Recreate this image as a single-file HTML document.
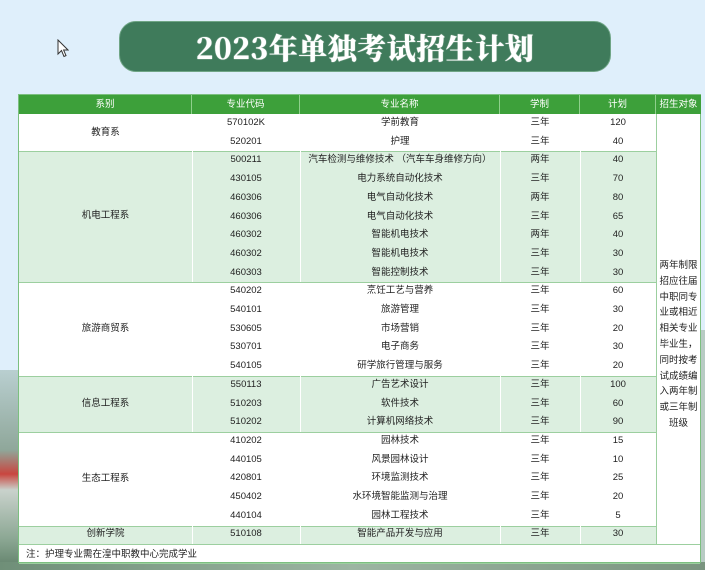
<!DOCTYPE html>
<html><head><meta charset="utf-8"><style>
*{margin:0;padding:0;box-sizing:border-box}
body{width:705px;height:570px;overflow:hidden;position:relative;background:#dfeffb;font-family:"Liberation Sans","Noto Sans CJK SC",sans-serif}
.ph{position:absolute;left:0;top:370px;width:20px;height:200px;background:linear-gradient(#b9cfd0,#8fa79a 40%,#c9463f 52%,#c9d2cc 60%,#8aa692 85%,#5f7f68)}
.bt{position:absolute;left:0;top:562px;width:705px;height:8px;background:linear-gradient(90deg,#6f8f78,#9cb5a2,#7a947f)}
.rt{position:absolute;left:700px;top:330px;width:5px;height:240px;background:#b8cbc4}
.title{position:absolute;left:119px;top:21px;width:492px;height:51px;background:#3f7b5b;border-radius:17px;color:#fff;text-align:center;font-family:"Noto Serif CJK SC",serif;font-weight:900;font-size:29px;line-height:51px;letter-spacing:0.5px;border:1px solid #6fa585;text-shadow:0 0 1px #fff}
.c{position:absolute;font-size:9.5px;color:#222;text-align:center;white-space:nowrap}
.h{position:absolute;top:0;height:19px;background:#3da03a;color:#fff;font-size:9.5px;line-height:19px;text-align:center;border-right:1px solid #8fd08c}
.g{position:absolute;background:#dcefe0;border-top:1px solid #9ccf9f}
.w{position:absolute;border-top:1px solid #9ccf9f}
.vl{position:absolute;width:1px;background:#fff}
</style></head><body>
<div class="ph"></div><div class="rt"></div><div class="bt"></div>
<svg style="position:absolute;left:57px;top:39px" width="12" height="20" viewBox="0 0 12 20"><path d="M1 1 L1 15 L4.5 11.5 L7 17.5 L9 16.6 L6.6 11 L11 11 Z" fill="#fff" stroke="#333" stroke-width="1"/></svg>
<div class="title">2023年单独考试招生计划</div>
<div class="tb" style="position:absolute;left:18px;top:94px;width:683px;height:469px;background:#fff;border:1px solid #7cbf80">
<div class="h" style="left:0;width:173px">系别</div>
<div class="h" style="left:173px;width:108px">专业代码</div>
<div class="h" style="left:281px;width:200px">专业名称</div>
<div class="h" style="left:481px;width:80px">学制</div>
<div class="h" style="left:561px;width:76px">计划</div>
<div class="h" style="left:637px;width:45px;border-right:none">招生对象</div>
<div class="w" style="left:0;top:19px;width:637px;height:37px;border-top:none"></div>
<div class="g" style="left:0;top:56px;width:637px;height:131px"></div>
<div class="w" style="left:0;top:187px;width:637px;height:94px"></div>
<div class="g" style="left:0;top:281px;width:637px;height:56px"></div>
<div class="w" style="left:0;top:337px;width:637px;height:94px"></div>
<div class="g" style="left:0;top:431px;width:637px;height:18px"></div>
<div class="vl" style="left:173px;top:56px;height:131px"></div><div class="vl" style="left:281px;top:56px;height:131px"></div><div class="vl" style="left:481px;top:56px;height:131px"></div><div class="vl" style="left:561px;top:56px;height:131px"></div>
<div class="vl" style="left:173px;top:281px;height:56px"></div><div class="vl" style="left:281px;top:281px;height:56px"></div><div class="vl" style="left:481px;top:281px;height:56px"></div><div class="vl" style="left:561px;top:281px;height:56px"></div>
<div class="vl" style="left:173px;top:431px;height:18px"></div><div class="vl" style="left:281px;top:431px;height:18px"></div><div class="vl" style="left:481px;top:431px;height:18px"></div><div class="vl" style="left:561px;top:431px;height:18px"></div>
<div style="position:absolute;left:0;top:449px;width:681px;height:20px;border-top:1px solid #9ccf9f;border-bottom:1px solid #9ccf9f;font-size:9.5px;line-height:19px;padding-left:7px;color:#222">注：护理专业需在湟中职教中心完成学业</div>
<div style="position:absolute;left:637px;top:19px;width:1px;height:430px;background:#9ccf9f"></div>
<div class="c" style="left:637px;top:163px;width:45px;white-space:normal;line-height:15.8px;font-size:9.5px;padding:0 2px">两年制限招应往届中职同专业或相近相关专业毕业生，同时按考试成绩编入两年制或三年制班级</div>
<div id="rows"></div>
</div>
<script>
var d=[["570102K","学前教育","三年","120"],["520201","护理","三年","40"],["500211","汽车检测与维修技术 （汽车车身维修方向）","两年","40"],["430105","电力系统自动化技术","三年","70"],["460306","电气自动化技术","两年","80"],["460306","电气自动化技术","三年","65"],["460302","智能机电技术","两年","40"],["460302","智能机电技术","三年","30"],["460303","智能控制技术","三年","30"],["540202","烹饪工艺与营养","三年","60"],["540101","旅游管理","三年","30"],["530605","市场营销","三年","20"],["530701","电子商务","三年","30"],["540105","研学旅行管理与服务","三年","20"],["550113","广告艺术设计","三年","100"],["510203","软件技术","三年","60"],["510202","计算机网络技术","三年","90"],["410202","园林技术","三年","15"],["440105","风景园林设计","三年","10"],["420801","环境监测技术","三年","25"],["450402","水环境智能监测与治理","三年","20"],["440104","园林工程技术","三年","5"],["510108","智能产品开发与应用","三年","30"]];
var L=[[173,108],[281,200],[481,80],[561,76]],h="";
d.forEach(function(r,i){var t=19+i*18.7;for(var k=0;k<4;k++)h+='<div class="c" style="left:'+L[k][0]+'px;width:'+L[k][1]+'px;top:'+t+'px;line-height:18.7px">'+r[k]+'</div>';});
var G=[["教育系",0,2],["机电工程系",2,7],["旅游商贸系",9,5],["信息工程系",14,3],["生态工程系",17,5],["创新学院",22,1]];
G.forEach(function(g){var t=19+g[1]*18.7;h+='<div class="c" style="left:0;width:173px;top:'+t+'px;line-height:'+(g[2]*18.7)+'px">'+g[0]+'</div>';});
document.getElementById("rows").innerHTML=h;
</script>
</body></html>
